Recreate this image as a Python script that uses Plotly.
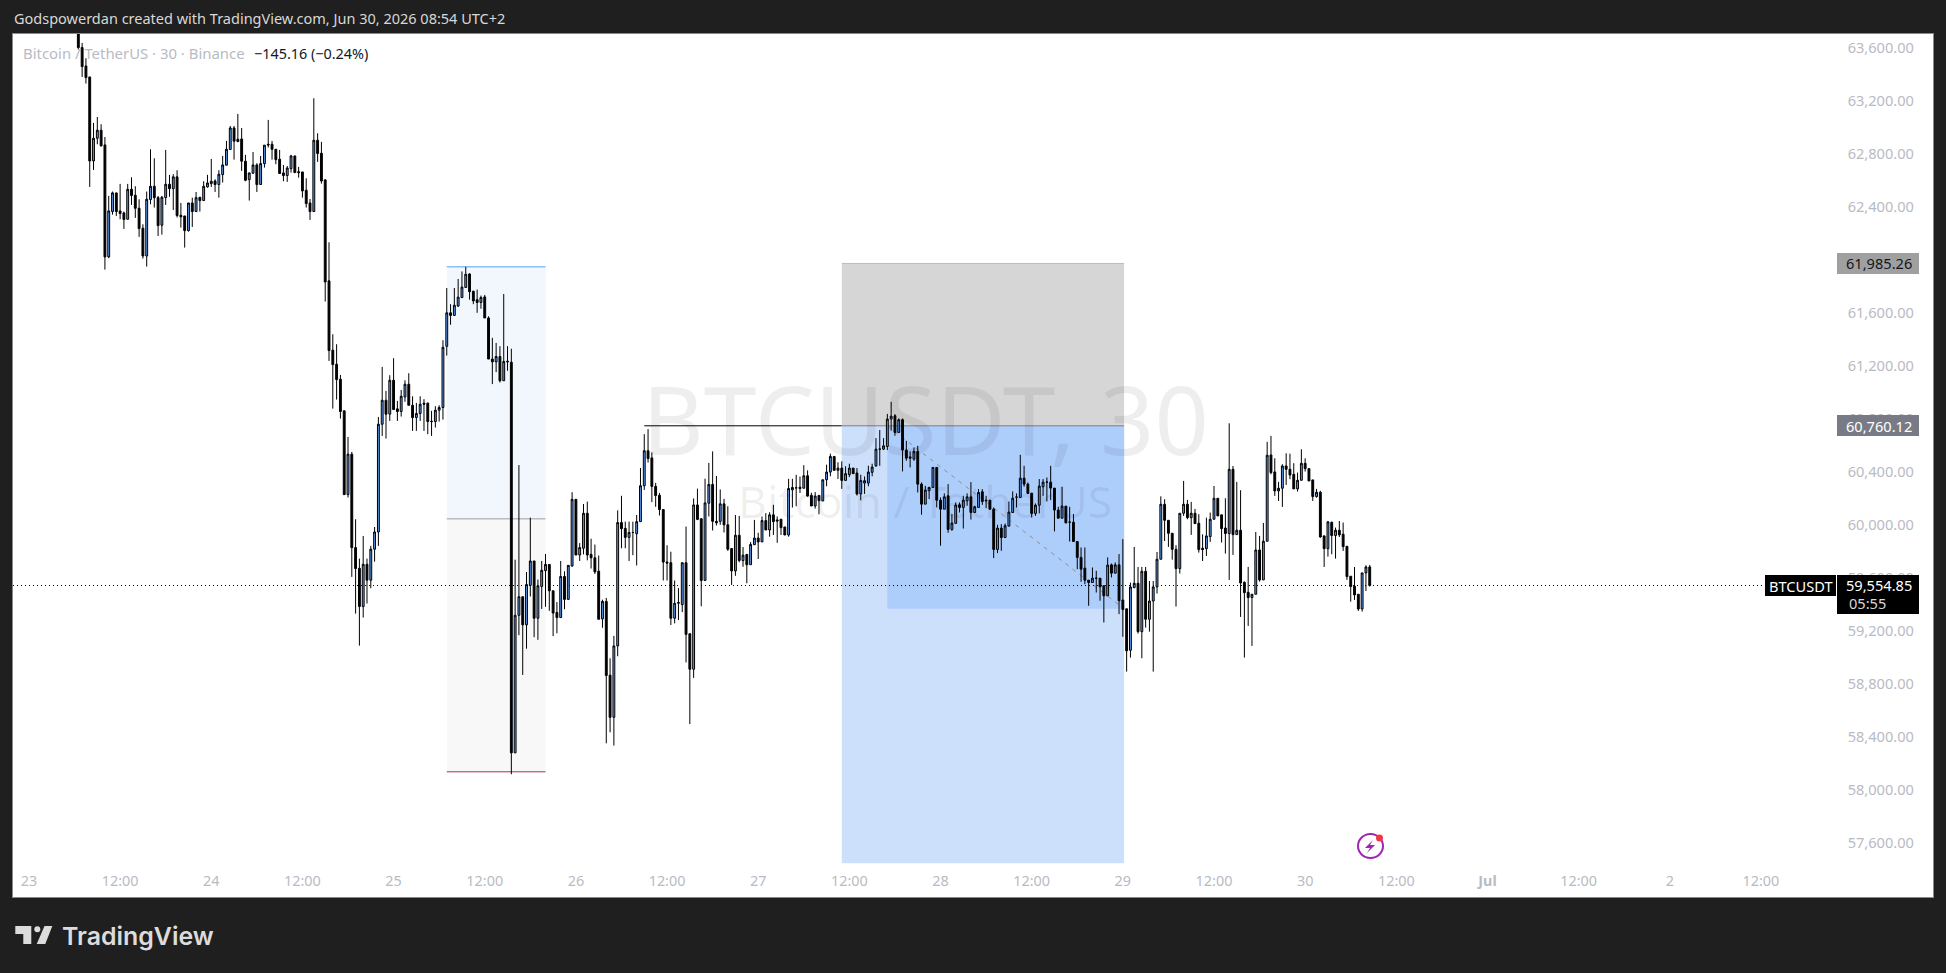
import pandas as pd
import plotly.graph_objects as go

W, H = 1946, 973
PLOT_L, PLOT_R, PLOT_T, PLOT_B = 13, 1933, 34, 897

first_bar = "2026-06-23 06:30"

opens = [
63816,63615,63476,63393,62759,62930,62991,62880,62035,62377,
62518,62382,62367,62319,62545,62500,62402,62251,62042,62468,
62568,62482,62274,62482,62583,62550,62639,62349,62344,62233,
62442,62377,62485,62460,62563,62588,62608,62581,62656,62727,
62845,63008,62923,62925,62757,62618,62666,62729,62581,62739,
62885,62885,62847,62772,62669,62649,62701,62797,62678,62676,
62538,62442,62377,62915,62817,62616,61854,61331,61225,61112,
60873,60241,60546,59841,59685,59396,59715,59595,59829,59959,
60772,60953,60848,61104,60888,60868,60978,61074,60915,60822,
60853,60931,60931,60795,60792,60878,60898,61360,61613,61593,
61664,61728,61804,61906,61775,61712,61691,61733,61574,61264,
61243,61283,61100,61248,61240,58292,59330,59470,59258,59556,
59740,59308,59548,59667,59714,59515,59352,59313,59623,59450,
59702,60205,59785,59836,60100,59790,59764,59663,59303,59435,
58878,58560,59099,60030,59986,59918,59955,59946,60037,60308,
60572,60518,60303,60236,60128,59732,59727,59308,59421,59411,
59727,59191,58923,60163,60059,59593,60176,60318,60039,60039,
60171,60013,59834,59665,59934,59743,59789,59712,59863,59913,
59884,60045,59974,60088,60050,60055,59997,59936,60277,60292,
60297,60289,60383,60235,60155,60235,60193,60353,60411,60529,
60424,60441,60348,60391,60441,60404,60246,60328,60328,60409,
60458,60584,60584,60604,60811,60836,60710,60806,60577,60526,
60509,60567,60320,60169,60270,60295,60446,60199,60131,60232,
59978,60024,60164,60144,60194,60224,60106,60144,60262,60199,
60199,60131,59827,59988,59917,60003,60106,60222,60219,60365,
60320,60252,60099,60161,60300,60335,60335,60290,60124,60063,
60154,60033,60033,59887,59767,59686,59595,59578,59610,59610,
59553,59477,59711,59648,59711,59445,59379,59066,59539,59572,
59207,59662,59300,59438,59544,59753,60168,60047,59949,59828,
59682,60100,60168,60067,60100,60025,59836,59833,59924,60055,
60213,60088,59989,59947,60432,59939,59972,59579,59504,59464,
59489,59823,59597,59889,60540,60412,60269,60289,60457,60432,
60394,60284,60349,60477,60437,60352,60226,60259,59929,59833,
60032,59932,59972,59942,59851,59625,59549,59489,59378,59650,
59695]

highs = [
63900,63650,63534,63393,63046,63091,63036,62940,62495,62528,
62518,62586,62377,62586,62636,62568,62470,62281,62528,62847,
62779,62495,62495,62842,62654,62659,62689,62442,62344,62442,
62482,62525,62485,62606,62654,62774,62621,62689,62797,62910,
63023,63023,63114,63008,62805,62669,62827,62742,62797,62878,
63069,62910,62847,62842,62729,62721,62805,62797,62714,62676,
62628,62472,63232,62968,62903,62621,62145,61451,61376,61144,
60878,60676,60563,60055,59758,59929,59758,59854,59997,60827,
61205,61024,61142,61270,60948,61031,61104,61157,60983,60933,
60983,60961,60936,60873,60908,60915,61406,61800,61678,61800,
61868,61925,61960,61911,61781,61788,61743,61748,61587,61424,
61386,61361,61755,61361,61342,59750,60464,59472,59657,60067,
59740,59600,59740,59793,59714,59515,59430,59740,59662,59707,
60259,60205,59875,60170,60188,59908,59864,59781,59448,59461,
59005,59175,60122,60232,60037,60037,60037,60087,60442,60697,
60735,60560,60329,60254,60128,59859,59810,59593,59535,59727,
60000,59191,60212,60286,60059,60361,60480,60567,60382,60280,
60209,60153,59834,60087,60080,59845,59794,59883,60050,59953,
60076,60101,60108,60164,60076,60055,59997,60360,60360,60390,
60377,60463,60424,60255,60260,60235,60353,60467,60550,60529,
60485,60492,60455,60474,60441,60441,60391,60378,60459,60474,
60667,60728,60667,60850,60941,60848,60816,60816,60647,60567,
60597,60609,60333,60307,60300,60446,60446,60219,60250,60320,
60094,60182,60182,60232,60250,60335,60157,60282,60282,60232,
60199,60144,60013,60018,60023,60189,60265,60250,60541,60458,
60333,60252,60174,60358,60358,60370,60458,60290,60149,60300,
60154,60149,60094,59887,59842,59842,59595,59691,59666,59610,
59553,59767,59721,59729,59792,59905,59379,59577,59846,59695,
59695,59695,59589,59589,59808,60228,60206,60047,59949,59859,
60100,60344,60201,60186,60133,60093,59941,60067,60105,60306,
60213,60088,60213,60779,60457,60337,60274,59586,59695,59489,
59959,59929,60027,60639,60684,60515,60337,60470,60553,60550,
60478,60407,60583,60515,60437,60352,60284,60269,59934,60042,
60037,59992,60042,60030,59851,59625,59695,59489,59650,59708,
59710]

lows = [
63600,63393,63343,62563,62691,62885,62868,61939,62025,62354,
62344,62319,62246,62319,62427,62329,62186,62022,61962,62432,
62407,62193,62203,62427,62488,62389,62332,62256,62105,62226,
62261,62377,62377,62460,62558,62563,62525,62482,62596,62727,
62845,62769,62905,62684,62606,62460,62666,62525,62581,62709,
62860,62769,62734,62664,62606,62601,62671,62671,62633,62482,
62407,62314,62377,62752,62588,61698,61250,60890,60958,60815,
60241,60219,59620,59343,59101,59313,59419,59534,59735,59854,
60684,60664,60797,60883,60797,60830,60941,60915,60722,60722,
60797,60722,60697,60684,60747,60792,60807,61290,61523,61593,
61657,61728,61804,61712,61678,61613,61644,61574,61264,61075,
61165,61087,61100,61175,58130,58292,59180,58880,59078,59472,
59165,59145,59378,59394,59364,59173,59194,59313,59376,59450,
59697,59785,59740,59790,59745,59683,59642,59300,59236,58364,
58447,58347,59021,59836,59836,59740,59784,59706,60037,60276,
60483,60184,60149,60083,59593,59593,59257,59269,59294,59354,
58974,58509,58858,60048,59398,59593,60076,59970,60008,60013,
59955,59816,59559,59628,59730,59696,59572,59712,59863,59755,
59884,59974,59923,59936,59877,59936,59936,59923,60143,60153,
60253,60289,60225,60155,60135,60092,60193,60304,60379,60424,
60359,60284,60348,60373,60399,60234,60198,60246,60304,60379,
60451,60458,60577,60577,60723,60685,60710,60416,60496,60446,
60496,60257,60089,60169,60207,60295,60144,59855,60131,59953,
59968,60024,60106,59985,60157,60053,60106,60144,60164,60139,
60131,59762,59799,59817,59917,60003,60106,60144,60219,60300,
60245,60068,60081,60099,60232,60189,60199,59963,60063,60063,
60023,59887,59887,59678,59583,59565,59402,59578,59502,59440,
59276,59477,59616,59648,59339,59168,58905,59011,59534,59192,
59006,59237,59207,58905,59494,59753,59891,59846,59750,59396,
59645,60080,60055,59937,60022,59803,59740,59778,59884,60055,
60080,59879,59796,59597,59786,59939,59318,59011,59250,59099,
59489,59584,59597,59889,60394,60231,60193,60148,60314,60357,
60284,60264,60349,60415,60344,60193,60218,59916,59695,59773,
59791,59758,59921,59816,59597,59433,59446,59363,59358,59514,
59547]

closes = [
63615,63471,63388,62759,62930,62991,62873,62035,62382,62518,
62377,62362,62317,62545,62498,62402,62249,62042,62470,62568,
62482,62271,62485,62583,62550,62639,62347,62337,62233,62442,
62377,62482,62460,62568,62593,62606,62581,62659,62729,62847,
63008,62908,62905,62757,62613,62669,62729,62581,62739,62878,
62880,62847,62769,62664,62649,62706,62797,62671,62671,62533,
62437,62377,62915,62815,62608,61846,61328,61222,61109,60868,
60241,60546,59841,59683,59396,59715,59595,59829,59959,60772,
60953,60848,61104,60883,60868,60983,61074,60915,60822,60853,
60923,60923,60792,60792,60878,60898,61353,61613,61593,61670,
61731,61807,61904,61772,61703,61691,61729,61574,61264,61243,
61283,61100,61246,61243,58292,59330,59470,59258,59562,59740,
59308,59553,59670,59714,59515,59347,59313,59623,59450,59707,
60205,59785,59841,60100,59785,59764,59658,59300,59435,58876,
58560,59099,60030,59984,59918,59955,59955,60037,60308,60572,
60513,60303,60234,60128,59732,59724,59308,59421,59426,59727,
59186,58923,60163,60054,59593,60178,60318,60039,60028,60171,
60013,59829,59665,59934,59743,59784,59712,59865,59913,59884,
60045,59974,60088,60037,60042,59992,59936,60287,60295,60292,
60287,60383,60230,60155,60230,60195,60353,60411,60529,60424,
60441,60348,60399,60441,60399,60246,60348,60346,60411,60449,
60584,60584,60609,60811,60833,60710,60806,60577,60516,60516,
60567,60320,60169,60275,60295,60446,60199,60131,60224,59978,
60026,60162,60144,60199,60224,60106,60149,60257,60189,60194,
60131,59827,59988,59917,60006,60109,60214,60222,60365,60320,
60250,60099,60161,60305,60335,60335,60290,60124,60063,60154,
60028,60033,59887,59767,59678,59595,59578,59610,59610,59545,
59477,59709,59648,59711,59440,59374,59062,59544,59572,59207,
59662,59300,59438,59544,59753,60168,60047,59949,59828,59682,
60100,60168,60067,60100,60022,59826,59826,59929,60055,60213,
60080,59984,59947,60432,59939,59972,59574,59501,59464,59489,
59823,59597,59889,60538,60407,60269,60289,60457,60432,60389,
60284,60349,60477,60437,60344,60226,60259,59921,59833,60035,
59932,59972,59937,59848,59622,59547,59484,59378,59650,59695,
59555]

time_ticks = ["2026-06-23", "2026-06-23 12:00", "2026-06-24", "2026-06-24 12:00",
              "2026-06-25", "2026-06-25 12:00", "2026-06-26", "2026-06-26 12:00",
              "2026-06-27", "2026-06-27 12:00", "2026-06-28", "2026-06-28 12:00",
              "2026-06-29", "2026-06-29 12:00", "2026-06-30", "2026-06-30 12:00",
              "2026-07-01", "2026-07-01 12:00", "2026-07-02", "2026-07-02 12:00"]
time_labels = ["23", "12:00", "24", "12:00", "25", "12:00", "26", "12:00", "27", "12:00",
               "28", "12:00", "29", "12:00", "30", "12:00", "<b>Jul</b>", "12:00", "2", "12:00"]
price_ticks = [57600, 58000, 58400, 58800, 59200, 59600, 60000, 60400, 60800,
               61200, 61600, 62400, 62800, 63200, 63600]

last_price = 59554.85
stop_price = 61985.26
entry_price = 60760.12
target_price = 57458
arrow_end_price = 59379
zone_top = 61960
zone_mid = 60058
zone_bottom = 58149

times = pd.date_range(first_bar, periods=len(closes), freq="30min")


def px(x):
    return x / W


def py(y):
    return 1 - y / H


fig = go.Figure(go.Candlestick(
    x=times, open=opens, high=highs, low=lows, close=closes,
    increasing=dict(line=dict(color="#000000", width=1), fillcolor="#5b9cf6"),
    decreasing=dict(line=dict(color="#000000", width=1), fillcolor="#000000"),
    hoverinfo="skip", showlegend=False,
))

shapes = []


def rect(x0, x1, y0, y1, fill):
    shapes.append(dict(type="rect", layer="below", xref="x", yref="y", x0=x0, x1=x1, y0=y0, y1=y1,
                       fillcolor=fill, line=dict(width=0)))


def hline(x0, x1, y, color, width=1, dash="solid", layer="below"):
    shapes.append(dict(type="line", layer=layer, xref="x", yref="y", x0=x0, x1=x1, y0=y, y1=y,
                       line=dict(color=color, width=width, dash=dash)))


X_START, X_END = "2026-06-22 21:54", "2026-07-03 10:39"
POS_L, POS_M, POS_R = "2026-06-27 11:00", "2026-06-27 17:00", "2026-06-29 00:10"
ZONE_L, ZONE_R = "2026-06-25 07:00", "2026-06-25 20:00"

# left zones
rect(ZONE_L, ZONE_R, zone_mid, zone_top, "#f2f7fe")
rect(ZONE_L, ZONE_R, zone_bottom, zone_mid, "#f8f8f8")
hline(ZONE_L, ZONE_R, zone_top, "#5b9cf6")
hline(ZONE_L, ZONE_R, zone_mid, "#9e9e9e")
hline(ZONE_L, ZONE_R, zone_bottom, "#b22855")
# position tool
rect(POS_L, POS_R, entry_price, stop_price, "#d6d6d6")
rect(POS_L, POS_R, target_price, entry_price, "#cde0fb")
rect(POS_M, POS_R, arrow_end_price, entry_price, "#adcdfb")
hline(POS_L, POS_R, stop_price, "#bdbdbd")
hline("2026-06-26 09:00", POS_L, entry_price, "#000000")
hline(POS_L, POS_R, entry_price, "#787b86")
shapes.append(dict(type="line", layer="below", xref="x", yref="y",
                   x0=POS_M, x1=POS_R, y0=entry_price, y1=arrow_end_price,
                   line=dict(color="#8f8f8f", width=1, dash="4px,5px")))
# last price line
hline(X_START, "2026-07-02 12:33", last_price, "#000000", dash="1px,3px")


def tag(x0, x1, y0, y1, fill):
    shapes.append(dict(type="rect", layer="above", xref="paper", yref="paper",
                       x0=px(x0), x1=px(x1), y0=py(y1), y1=py(y0), fillcolor=fill, line=dict(width=0)))


tag(1837, 1919, 253, 274, "#a0a0a0")
tag(1837, 1919, 415, 436, "#787b86")
tag(1837, 1919, 575, 614, "#000000")
tag(1765, 1836, 575, 596, "#000000")


def poly(points, fill):
    d = "M" + " L".join(f"{px(a):.5f},{py(b):.5f}" for a, b in points) + " Z"
    shapes.append(dict(type="path", layer="above", xref="paper", yref="paper", path=d,
                       fillcolor=fill, line=dict(width=0)))


# TradingView logo
poly([(15.3, 926), (31.3, 926), (31.3, 944), (23.3, 944), (23.3, 934), (15.3, 934)], "#dcdcdc")
shapes.append(dict(type="circle", layer="above", xref="paper", yref="paper",
                   x0=px(34.3), x1=px(40.3), y0=py(932.3), y1=py(926.3), fillcolor="#dcdcdc", line=dict(width=0)))
poly([(44.5, 926), (52.3, 926), (45.3, 944), (36.7, 944)], "#dcdcdc")

# alert icon
shapes.append(dict(type="circle", layer="above", xref="paper", yref="paper",
                   x0=px(1358), x1=px(1383), y0=py(858), y1=py(834),
                   line=dict(color="#9c27b0", width=2), fillcolor="rgba(0,0,0,0)"))
poly([(1373, 840), (1365, 848), (1370, 848), (1367, 853), (1375, 845), (1370, 845)], "#9c27b0")
shapes.append(dict(type="circle", layer="above", xref="paper", yref="paper",
                   x0=px(1376), x1=px(1383), y0=py(841.5), y1=py(834.5), fillcolor="#f23645", line=dict(width=0)))

UI_FONT = "Noto Sans"
annotations = []


def text(x, y, s, size, color, anchor="left", family=UI_FONT, weight="normal"):
    annotations.append(dict(xref="paper", yref="paper", x=px(x), y=py(y), text=s, showarrow=False,
                            xanchor=anchor, yanchor="middle", align="left",
                            font=dict(family=family, size=size, color=color, weight=weight)))


text(12, 18.5, "Godspowerdan created with TradingView.com, Jun 30, 2026 08:54 UTC+2", 14.5, "#d8d8d8")
text(21, 53, "Bitcoin / TetherUS · 30 · Binance", 14.9, "#b8bbc4")
text(252, 53, "−145.16 (−0.24%)", 14.4, "#131722")
text(925, 418, "BTCUSDT, 30", 95, "rgba(0,0,0,0.065)", anchor="center")
text(925, 500, "Bitcoin / TetherUS", 44.5, "rgba(0,0,0,0.065)", anchor="center")
text(1914, 263.5, "61,985.26", 14.6, "#131722", anchor="right")
text(1914, 425.5, "60,760.12", 14.6, "#ffffff", anchor="right")
text(1914, 585, "59,554.85", 14.6, "#ffffff", anchor="right")
text(1847, 603, "05:55", 14.6, "#d8d8d8")
text(1800.5, 585.5, "BTCUSDT", 14.6, "#ffffff", anchor="center")
text(60, 936, "TradingView", 24.9, "#dcdcdc", family="Inter", weight=600)

fig.update_layout(
    width=W, height=H,
    margin=dict(l=0, r=0, t=0, b=0, pad=0),
    paper_bgcolor="#1f1f1f", plot_bgcolor="#ffffff",
    showlegend=False, hovermode=False,
    shapes=shapes, annotations=annotations,
    font=dict(family=UI_FONT),
    xaxis=dict(
        type="date", domain=[px(PLOT_L), px(PLOT_R)],
        range=[X_START, X_END],
        rangeslider=dict(visible=False), showgrid=False, zeroline=False,
        tickmode="array", tickvals=time_ticks, ticktext=time_labels,
        ticklabelposition="inside", ticks="", ticklabelstandoff=8,
        tickfont=dict(family=UI_FONT, size=14.4, color="#b8bbc4"),
        showline=True, mirror=True, linecolor="#8a8a8a", linewidth=1,
    ),
    yaxis=dict(
        domain=[py(PLOT_B), py(PLOT_T)], range=[57204.1, 63717.1], side="right",
        showgrid=False, zeroline=False,
        tickmode="array", tickvals=price_ticks,
        ticktext=[f"{v:,.2f}" for v in price_ticks],
        ticklabelposition="inside", ticks="", ticklabelstandoff=19, ticklabelshift=-2,
        tickfont=dict(family=UI_FONT, size=14.6, color="#b8bbc4"),
        showline=True, mirror=True, linecolor="#8a8a8a", linewidth=1,
    ),
)

fig.write_html("out.html", config=dict(displayModeBar=False),
               post_script="document.body.style.margin='0';document.body.style.background='#1f1f1f';")
